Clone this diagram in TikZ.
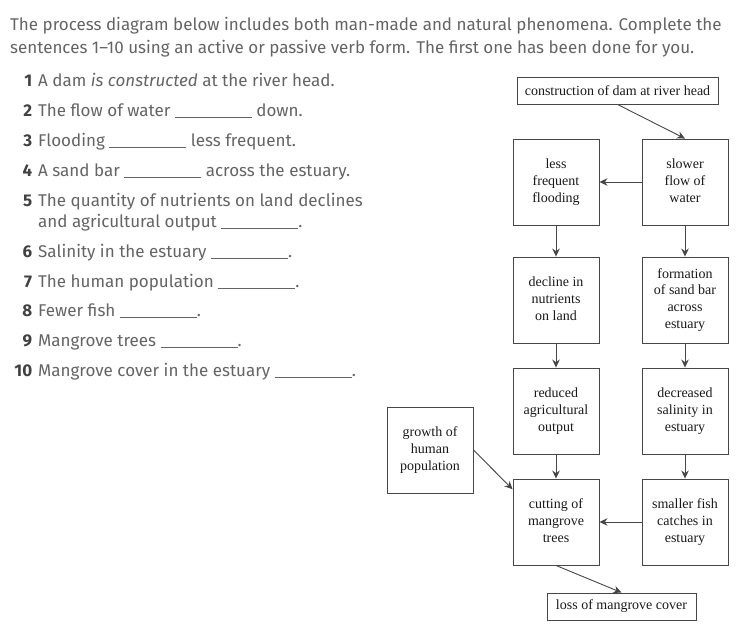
\documentclass[tikz,border=0pt]{standalone}
\usepackage{fontspec}
\setmainfont{Liberation Serif}
\newfontfamily\qfont{Fira Sans}
\usepackage{tikz}
\usetikzlibrary{arrows,arrows.meta,positioning}
\definecolor{boxgray}{RGB}{70,70,70}
\definecolor{txtgray}{RGB}{100,100,100}
\definecolor{numgray}{RGB}{65,65,65}
\tikzstyle{process} = [rectangle, minimum width=86pt, minimum height=86pt, inner sep=0pt, text centered, draw=boxgray, line width=0.9pt, text=black!90, font=\fontsize{14}{16.7}\selectfont]
\tikzstyle{banner} = [process, minimum height=27pt]
\tikzstyle{arrow} = [line width=0.9pt,->,>={Stealth[length=8pt,width=7.5pt]},color=boxgray]
\tikzstyle{question} = [anchor=base west, inner sep=0pt, text=txtgray, font=\qfont\fontsize{17}{20}\selectfont]
\newcommand{\blank}{\rule[-1pt]{77pt}{0.6pt}}
\newcommand{\qnum}[1]{\llap{\textcolor{numgray}{\bfseries #1}\hspace{6pt}}}

\begin{document}
\begin{tikzpicture}[x=1pt, y=-1pt, node distance=111pt]
\useasboundingbox (0,0) rectangle (737,636);
% Task
\node (intro1) [question] at (10,31) {The process diagram below includes both man-made and natural phenomena. Complete the};
\node (intro2) [question] at (10,54) {sentences 1\textendash 10 using an active or passive verb form. The first one has been done for you.};

\node (q1) [question] at (38,87) {\qnum{1}A dam \textit{is constructed} at the river head.};
\node (q2) [question] at (38,117) {\qnum{2}The flow of water \blank\ down.};
\node (q3) [question] at (38,147) {\qnum{3}Flooding \blank\ less frequent.};
\node (q4) [question] at (38,177) {\qnum{4}A sand bar \blank\ across the estuary.};
\node (q5) [question] at (38,207) {\qnum{5}The quantity of nutrients on land declines};
\node (q5b) [question] at (38,228) {and agricultural output \blank.};
\node (q6) [question] at (38,258) {\qnum{6}Salinity in the estuary \blank.};
\node (q7) [question] at (38,288) {\qnum{7}The human population \blank.};
\node (q8) [question] at (38,317) {\qnum{8}Fewer fish \blank.};
\node (q9) [question] at (38,347) {\qnum{9}Mangrove trees \blank.};
\node (q10) [question] at (38,377) {\qnum{10}Mangrove cover in the estuary \blank.};

% Steps
\node (dam) [banner, minimum width=201pt] at (617.5,90.5) {construction of dam at river head};

\node (flood) [process] at (556,182) {
\begin{tabular}{c}
less\\
frequent\\
flooding
\end{tabular}
};

\node (flow) [process, node distance=129pt, right of=flood] {
\begin{tabular}{c}
slower\\
flow of\\
water
\end{tabular}
};

\node (decline) [process, node distance=118pt, below of=flood] {
\begin{tabular}{c}
decline in\\
nutrients\\
on land
\end{tabular}
};

\node (sandbar) [process, node distance=118pt, below of=flow] {
\begin{tabular}{c}
formation\\
of sand bar\\
across\\
estuary
\end{tabular}
};

\node (reduced) [process, below of=decline] {
\begin{tabular}{c}
reduced\\
agricultural\\
output
\end{tabular}
};

\node (salinity) [process, below of=sandbar] {
\begin{tabular}{c}
decreased\\
salinity in\\
estuary
\end{tabular}
};

\node (cutting) [process, below of=reduced] {
\begin{tabular}{c}
cutting of\\
mangrove\\
trees
\end{tabular}
};

\node (fish) [process, below of=salinity] {
\begin{tabular}{c}
smaller fish\\
catches in\\
estuary
\end{tabular}
};

\node (growth) [process] at (430,450) {
\begin{tabular}{c}
growth of\\
human\\
population
\end{tabular}
};

\node (loss) [banner, minimum width=149pt] at (621.5,606.5) {loss of mangrove cover};

% Arrows
\draw[arrow] (dam.south) -- (flow.north);
\draw[arrow] (flow) -- (flood);
\draw[arrow] (flood) -- (decline);
\draw[arrow] (flow) -- (sandbar);
\draw[arrow] (decline) -- (reduced);
\draw[arrow] (sandbar) -- (salinity);
\draw[arrow] (reduced) -- (cutting);
\draw[arrow] (salinity) -- (fish);
\draw[arrow] (fish) -- (cutting);
\draw[arrow] (growth.east) -- (cutting.143);
\draw[arrow] (cutting.south) -- (loss.north);
\end{tikzpicture}
\end{document}
